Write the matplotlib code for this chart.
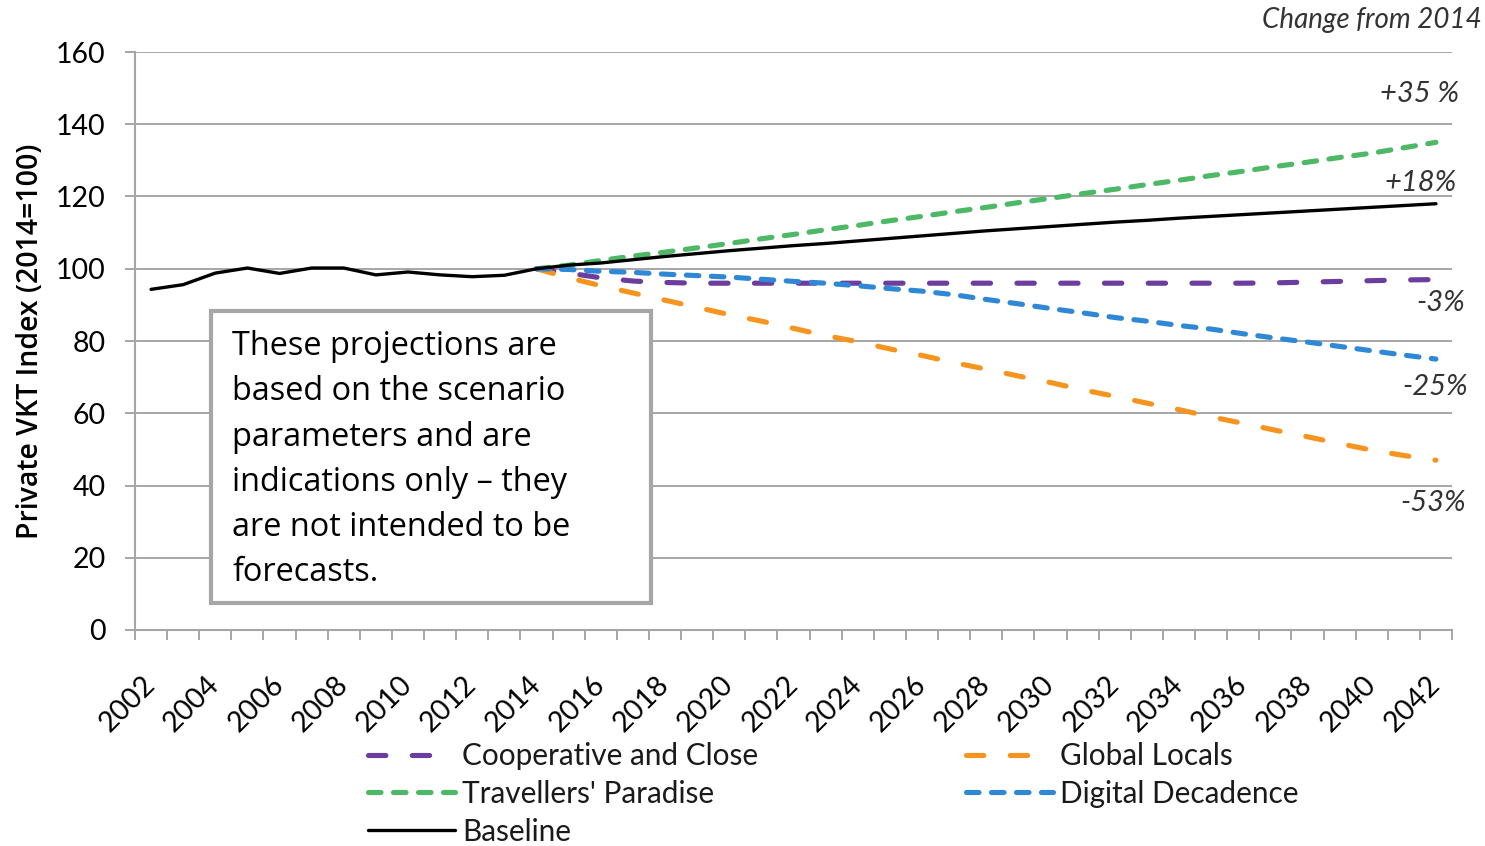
import matplotlib
matplotlib.use("Agg")
import matplotlib.pyplot as plt
from matplotlib.patches import Rectangle
from matplotlib.ticker import FixedLocator, MultipleLocator

plt.rcParams["font.family"] = ["Lato", "DejaVu Sans"]
plt.rcParams["lines.scale_dashes"] = False

# ---- data -------------------------------------------------------------
years = list(range(2002, 2043))
scenario_years = list(range(2014, 2043))

baseline = [94.3, 95.6, 98.8, 100.2, 98.7, 100.2, 100.2, 98.3, 99.1, 98.3,
            97.8, 98.2, 100.0,
            101.0, 101.6, 102.5, 103.4, 104.2, 105.0, 105.7, 106.4, 107.0,
            107.7, 108.4, 109.1, 109.8, 110.5, 111.1, 111.7, 112.3, 112.9,
            113.4, 114.0, 114.5, 115.0, 115.5, 116.0, 116.5, 117.0, 117.5,
            118.0]

cooperative = [100.0, 98.8, 97.5, 96.6, 96.2, 96.0, 96.0, 96.0, 96.0, 96.0,
               96.0, 96.0, 96.0, 96.0, 96.0, 96.0, 96.0, 96.0, 96.0, 96.0,
               96.0, 96.0, 96.0, 96.1, 96.3, 96.5, 96.7, 96.9, 97.0]

global_locals = [100.0, 97.5, 95.3, 93.3, 91.3, 89.3, 87.3, 85.5, 83.5, 81.5,
                 79.8, 77.8, 76.0, 74.0, 72.2, 70.3, 68.5, 66.5, 64.7, 62.8,
                 61.0, 59.0, 57.2, 55.3, 53.5, 51.6, 49.8, 48.3, 47.0]

travellers = [100.0, 101.0, 102.3, 103.5, 104.6, 105.8, 107.0, 108.3, 109.5,
              110.8, 112.0, 113.3, 114.5, 115.8, 117.0, 118.3, 119.5, 120.8,
              122.0, 123.3, 124.5, 125.8, 127.0, 128.3, 129.5, 130.8, 132.0,
              133.5, 135.0]

digital = [100.0, 99.8, 99.3, 99.0, 98.5, 98.1, 97.7, 97.1, 96.5, 96.0,
           95.3, 94.5, 93.8, 92.8, 91.5, 90.3, 89.0, 87.8, 86.5, 85.5,
           84.3, 83.3, 82.0, 80.8, 79.7, 78.5, 77.3, 76.1, 75.0]

year_labels = [str(y) for y in range(2002, 2043, 2)]
y_ticks = [0, 20, 40, 60, 80, 100, 120, 140, 160]

end_labels = ["+35 %", "+18%", "-3%", "-25%", "-53%"]

note_text = ("These projections are\n"
             "based on the scenario\n"
             "parameters and are\n"
             "indications only \u2013 they\n"
             "are not intended to be\n"
             "forecasts.")

# ---- styling ----------------------------------------------------------
PURPLE = "#6b3d9e"
ORANGE = "#f7941d"
GREEN = "#4db866"
BLUE = "#2f88d6"
GRID = "#a6a6a6"
TEXT = "#1a1a1a"
LW = 3.7
long_dash = (0, (12.5, 19.0))
short_dash = (0, (9.0, 9.0))

W, H = 1485, 846
fig = plt.figure(figsize=(W / 100, H / 100), dpi=100)
ax = fig.add_axes([135 / W, 1 - 630 / H, 1317 / W, 578 / H])

ax.set_xlim(2001.5, 2042.5)
ax.set_ylim(0, 160)

ax.yaxis.set_major_locator(FixedLocator(y_ticks))
ax.grid(axis="y", color=GRID, linewidth=1.4, zorder=0)
ax.set_axisbelow(True)

for side in ("top", "right"):
    ax.spines[side].set_visible(False)
for side in ("left", "bottom"):
    ax.spines[side].set_color(GRID)
    ax.spines[side].set_linewidth(1.5)

ax.tick_params(axis="y", length=7, width=1.4, color=GRID, pad=14,
               labelsize=20.5, labelcolor="#000000")

# year labels every second year, category tick marks between years
ax.set_xticks(list(range(2002, 2043, 2)))
ax.set_xticklabels(year_labels, rotation=45, ha="right", va="center",
                   rotation_mode="anchor", fontsize=20.5, color="#000000")
ax.tick_params(axis="x", which="major", length=0, pad=36)
ax.xaxis.set_minor_locator(MultipleLocator(1, offset=0.5))
ax.tick_params(axis="x", which="minor", length=7, width=1.4, color=GRID)

ax.set_ylabel("Private VKT Index (2014=100)", family="Open Sans",
              fontweight="semibold", fontsize=20.5, color="#000000",
              labelpad=8)

# ---- series -----------------------------------------------------------
l_coop, = ax.plot(scenario_years, cooperative, color=PURPLE, lw=LW,
                  linestyle=long_dash, dash_capstyle="round", zorder=3,
                  label="Cooperative and Close")
l_glob, = ax.plot(scenario_years, global_locals, color=ORANGE, lw=LW,
                  linestyle=long_dash, dash_capstyle="round", zorder=3,
                  label="Global Locals")
l_trav, = ax.plot(scenario_years, travellers, color=GREEN, lw=LW,
                  linestyle=short_dash, dash_capstyle="round", zorder=3,
                  label="Travellers' Paradise")
l_digi, = ax.plot(scenario_years, digital, color=BLUE, lw=LW,
                  linestyle=short_dash, dash_capstyle="round", zorder=3,
                  label="Digital Decadence")
l_base, = ax.plot(years, baseline, color="black", lw=2.4,
                  solid_capstyle="round", solid_joinstyle="round", zorder=4,
                  label="Baseline")

# ---- end-of-line change labels ---------------------------------------
end_values = [travellers[-1], baseline[-1], cooperative[-1], digital[-1],
              global_locals[-1]]
offsets = [(17, 35), (15, 15), (21, -17), (23, -20), (22, -31)]
for txt, val, off in zip(end_labels, end_values, offsets):
    ax.annotate(txt, xy=(years[-1], val), xytext=off,
                textcoords="offset points", ha="right", va="center",
                fontsize=21, fontstyle="italic", color="#333333",
                annotation_clip=False)

fig.text(1482 / W, 1 - 20 / H, "Change from 2014", ha="right", va="center",
         fontsize=20, fontstyle="italic", color="#333333")

# ---- note box ---------------------------------------------------------
box = Rectangle((76 / 1317, 27 / 578), 440 / 1317, 292 / 578,
                transform=ax.transAxes, facecolor="white", edgecolor=GRID,
                linewidth=3.0, zorder=6)
ax.add_patch(box)
ax.text(97 / 1317, (630 - 330) / 578, note_text, transform=ax.transAxes,
        ha="left", va="top", family="Open Sans", fontsize=23.4,
        linespacing=1.49, color="#000000", zorder=7)

# ---- legend -----------------------------------------------------------
handles = [l_coop, l_trav, l_base, l_glob, l_digi]
fig.legend(handles, [h.get_label() for h in handles], ncol=2,
           loc="upper left", bbox_to_anchor=(368 / W, 1 - 742 / H),
           frameon=False, fontsize=21.4, handlelength=2.93,
           handletextpad=0.23, columnspacing=7.0, labelspacing=0.33,
           borderpad=0, borderaxespad=0, labelcolor=TEXT)

fig.savefig("out.png", dpi=100)
